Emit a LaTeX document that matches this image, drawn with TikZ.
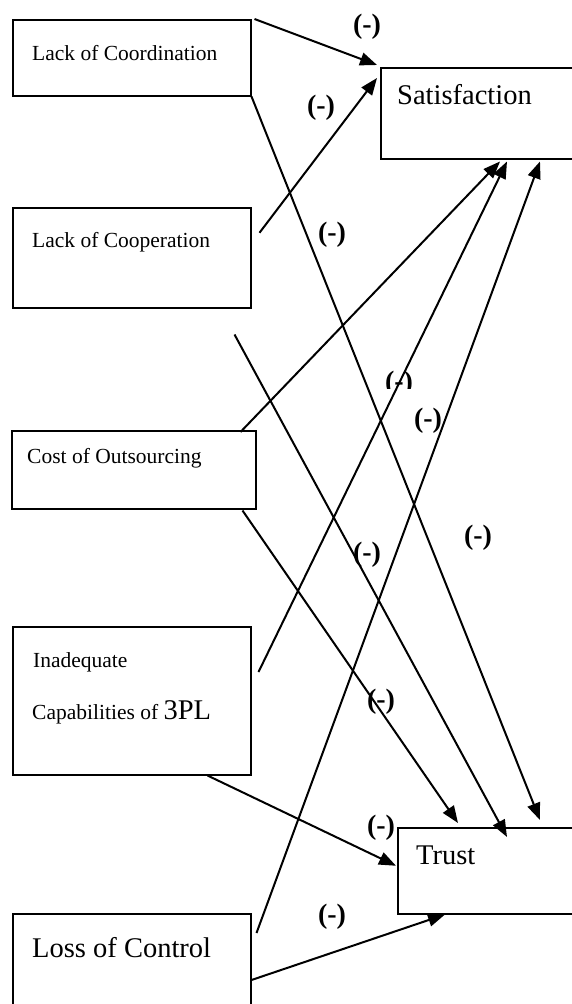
\documentclass[tikz,border=0pt]{standalone}
\usepackage{fontspec}
\setmainfont{Liberation Serif}
\usetikzlibrary{arrows.meta}
\tikzset{
  box/.style={draw=black, line width=1.5pt, rectangle, anchor=north west},
  boxtext/.style={anchor=west, font={\fontsize{21.5pt}{25}\selectfont}},
  bigtext/.style={anchor=west, font={\fontsize{28.5pt}{32}\selectfont}},
  sign/.style={font={\fontsize{28pt}{30}\selectfont\bfseries}},
  arr/.style={line width=2pt, -{Triangle[length=17pt,width=13pt]}}}

\begin{document}
\begin{tikzpicture}[x=1pt,y=1pt]
\tikzstyle{every node}+=[inner sep=0pt]
\useasboundingbox (0,0) rectangle (572,-1004);
\clip (0,0) rectangle (572,-1004);
% boxes
\node [box, minimum width=238pt, minimum height=76pt] (coord) at (12,-19) {};
\node [box, minimum width=238pt, minimum height=100pt] (coop) at (12,-207) {};
\node [box, minimum width=244pt, minimum height=78pt] (cost) at (11,-430) {};
\node [box, minimum width=238pt, minimum height=148pt] (inad) at (12,-626) {};
\node [box, minimum width=238pt, minimum height=110pt] (loss) at (12,-913) {};
\node [box, minimum width=230pt, minimum height=91pt] (sat) at (380,-67) {};
\node [box, minimum width=220pt, minimum height=86pt] (trust) at (397,-827) {};
% box texts
\node [boxtext] (coordtxt) at (32,-53) {Lack of Coordination};
\node [boxtext] (cooptxt) at (32,-242) {Lack of Cooperation};
\node [boxtext] (costtxt) at (27,-458) {Cost of Outsourcing};
\node [boxtext] (inadtxt) at (33,-662) {Inadequate};
\node [boxtext] (captxt) at (32,-712) {Capabilities of {\fontsize{28.5pt}{32}\selectfont 3PL}};
\node [bigtext] (losstxt) at (32,-948) {Loss of Control};
\node [bigtext] (sattxt) at (397,-95) {Satisfaction};
\node [bigtext] (trusttxt) at (416,-855) {Trust};
% paths to satisfaction
\draw [arr] ([xshift=3pt]coord.north east) -- ([xshift=-3pt,yshift=2pt]sat.north west);
\draw [arr] ([xshift=8pt,yshift=25pt]coop.east) -- ([xshift=-3pt,yshift=-11pt]sat.north west);
\draw [arr] ([xshift=-16pt,yshift=-2pt]cost.north east) -- ([xshift=120pt,yshift=-2pt]sat.south west);
\draw [arr] ([xshift=7pt,yshift=-46pt]inad.north east) -- ([xshift=127pt,yshift=-2pt]sat.south west);
\draw [arr] ([xshift=5pt,yshift=-20pt]loss.north east) -- ([xshift=160pt,yshift=-2pt]sat.south west);
% paths to trust
\draw [arr] (coord.south east) -- ([xshift=143pt,yshift=7pt]trust.north west);
\draw [arr] ([xshift=-17pt,yshift=-26pt]coop.south east) -- ([xshift=110pt,yshift=-10pt]trust.north west);
\draw [arr] ([xshift=-14pt,yshift=-1pt]cost.south east) -- ([xshift=61pt,yshift=4pt]trust.north west);
\draw [arr] ([xshift=-44pt]inad.south east) -- ([xshift=-1pt,yshift=5pt]trust.west);
\draw [arr] ([yshift=-67pt]loss.north east) -- ([xshift=48pt]trust.south west);
% signs
\node [sign] (s1) at (367,-27) {(-)};
\node [sign] (s2) at (321,-108) {(-)};
\node [sign] (s3) at (332,-235) {(-)};
\begin{scope}
\clip (380,-368) rectangle (420,-388);
\node [sign] (s4) at (399,-384) {(-)};
\end{scope}
\node [sign] (s5) at (428,-421) {(-)};
\node [sign] (s6) at (478,-538) {(-)};
\node [sign] (s7) at (367,-555) {(-)};
\node [sign] (s8) at (381,-702) {(-)};
\node [sign] (s9) at (381,-828) {(-)};
\node [sign] (s10) at (332,-917) {(-)};
\end{tikzpicture}
\end{document}
